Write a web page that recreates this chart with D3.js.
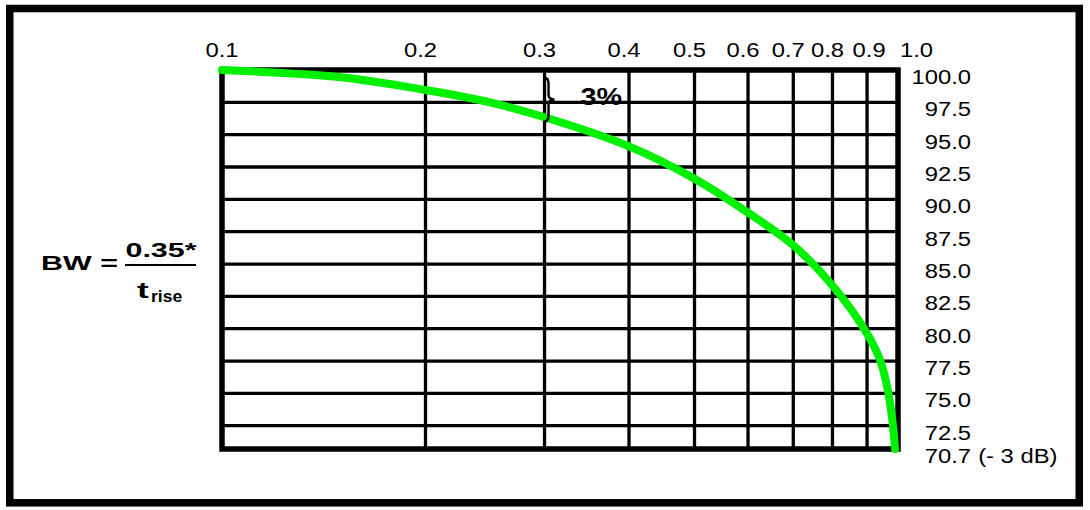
<!DOCTYPE html>
<html><head><meta charset="utf-8">
<script src="https://cdn.jsdelivr.net/npm/d3@7"></script>
<style>
body{margin:0;background:#fff}
svg{display:block}
text{font-family:"Liberation Sans",Arial,sans-serif;fill:#000}
</style>
</head><body>
<svg id="c" width="1090" height="510"></svg>
<script>
// ---- data ----
const xTicks = [0.1, 0.2, 0.3, 0.4, 0.5, 0.6, 0.7, 0.8, 0.9, 1.0];
const xTickLabels = ["0.1","0.2","0.3","0.4","0.5","0.6","0.7","0.8","0.9","1.0"];
const yTicks = [100, 97.5, 95, 92.5, 90, 87.5, 85, 82.5, 80, 77.5, 75, 72.5, 70.7];
const yTickLabels = ["100.0","97.5","95.0","92.5","90.0","87.5","85.0","82.5","80.0","77.5","75.0","72.5","70.7"];
const yBottomNote = "(- 3 dB)";
const curveFreq = [0.10, 0.15, 0.20, 0.25, 0.30, 0.40, 0.50, 0.60, 0.70, 0.80, 0.90, 0.942, 0.968, 0.983, 0.99];
const curvePct  = [100, 99.44, 98.45, 97.48, 96.35, 94.1, 91.6, 88.97, 86.45, 83.34, 79.62, 77.5, 75.0, 72.5, 70.7];
const annotFreq = 0.3, annotTop = 99.5, annotBottom = 96.0, annotText = "3%";
const formulaLeft = "BW =", formulaNum = "0.35*", formulaDen = "t", formulaSub = "rise";

// ---- layout ----
const svg = d3.select("#c");
const x = d3.scaleLog().domain([0.1, 1]).range([222, 898]);
const y = d3.scaleLinear().domain([70.7, 100]).range([449, 70]);
const x0 = x(0.1), x1 = x(1), yTop = y(100), yBot = y(70.7);

// outer frame
svg.append("rect").attr("x", 9.75).attr("y", 8.5).attr("width", 1069.5).attr("height", 494.3)
  .attr("fill", "none").attr("stroke", "#000").attr("stroke-width", 7.5);

// grid
const g = svg.append("g").attr("stroke", "#000").attr("stroke-width", 3.3);
g.selectAll("line.v").data(xTicks.slice(1, -1)).join("line")
  .attr("x1", d => x(d)).attr("x2", d => x(d)).attr("y1", yTop).attr("y2", yBot);
g.selectAll("line.h").data(yTicks.slice(1, -1)).join("line")
  .attr("x1", x0).attr("x2", x1).attr("y1", d => y(d)).attr("y2", d => y(d));
svg.append("rect").attr("x", x0).attr("y", yTop).attr("width", x1 - x0).attr("height", yBot - yTop)
  .attr("fill", "none").attr("stroke", "#000").attr("stroke-width", 5.5);

// x tick labels (top) — small hand-placement nudges as in the original
const last = xTicks.length - 1;
const labelDx = (d, i) => i === 0 ? 0 : i === last ? 2 : d === 0.9 ? 2 : -5;
svg.selectAll("text.xl").data(xTicks).join("text").attr("class", "xl")
  .attr("transform", (d, i) => `translate(${x(d) + labelDx(d, i)},57) scale(1.19,1)`)
  .attr("text-anchor", (d, i) => i === last ? "start" : "middle")
  .attr("font-size", 20)
  .text((d, i) => xTickLabels[i]);

// y tick labels (right)
svg.selectAll("text.yl").data(yTicks).join("text").attr("class", "yl")
  .attr("transform", (d, i) => `translate(971,${y(d) + (i === yTicks.length - 1 ? 13.5 : 14)}) scale(1.19,1)`)
  .attr("text-anchor", "end")
  .attr("font-size", 20)
  .text((d, i) => yTickLabels[i]);
svg.append("text")
  .attr("transform", `translate(971,${y(70.7) + 13.5}) scale(1.19,1)`)
  .attr("x", 6).attr("font-size", 20).text(yBottomNote);

// curve
const pts = curveFreq.map((f, i) => ({f, v: curvePct[i]}));
const line = d3.line().x(d => x(d.f)).y(d => y(d.v)).curve(d3.curveCatmullRom.alpha(0.5));
svg.append("path").attr("d", line(pts)).attr("fill", "none")
  .attr("stroke", "#00f000").attr("stroke-width", 8)
  .attr("stroke-linecap", "round").attr("stroke-linejoin", "round");

// brace annotation
const bx = x(annotFreq) - 1, bt = y(annotTop) + 1, bb = y(annotBottom), bm = (bt + bb) / 2;
const p = d3.path();
p.moveTo(bx, bt);
p.quadraticCurveTo(bx + 5, bt, bx + 5, bt + 6);
p.lineTo(bx + 5, bm - 5);
p.quadraticCurveTo(bx + 5, bm, bx + 11, bm);
p.quadraticCurveTo(bx + 5, bm, bx + 5, bm + 5);
p.lineTo(bx + 5, bb - 6);
p.quadraticCurveTo(bx + 5, bb, bx, bb);
svg.append("path").attr("d", p.toString()).attr("fill", "none")
  .attr("stroke", "#000").attr("stroke-width", 2.4);
svg.append("text")
  .attr("transform", `translate(${x(annotFreq) + 36},105) scale(1.2,1)`)
  .attr("font-size", 24).attr("font-weight", "bold").text(annotText);

// formula
svg.append("text").attr("transform", "translate(41,270) scale(1.45,1)")
  .attr("font-size", 21).attr("font-weight", "bold").text(formulaLeft);
svg.append("text").attr("transform", "translate(161,257) scale(1.45,1)")
  .attr("text-anchor", "middle").attr("font-size", 21).attr("font-weight", "bold").text(formulaNum);
svg.append("line").attr("x1", 125).attr("x2", 196).attr("y1", 265).attr("y2", 265)
  .attr("stroke", "#000").attr("stroke-width", 2);
svg.append("text").attr("transform", "translate(137,298) scale(1.6,1)")
  .attr("font-size", 22).attr("font-weight", "bold").text(formulaDen);
svg.append("text").attr("transform", "translate(151,302) scale(1.1,1)")
  .attr("font-size", 16).attr("font-weight", "bold").text(formulaSub);
</script>
</body></html>
